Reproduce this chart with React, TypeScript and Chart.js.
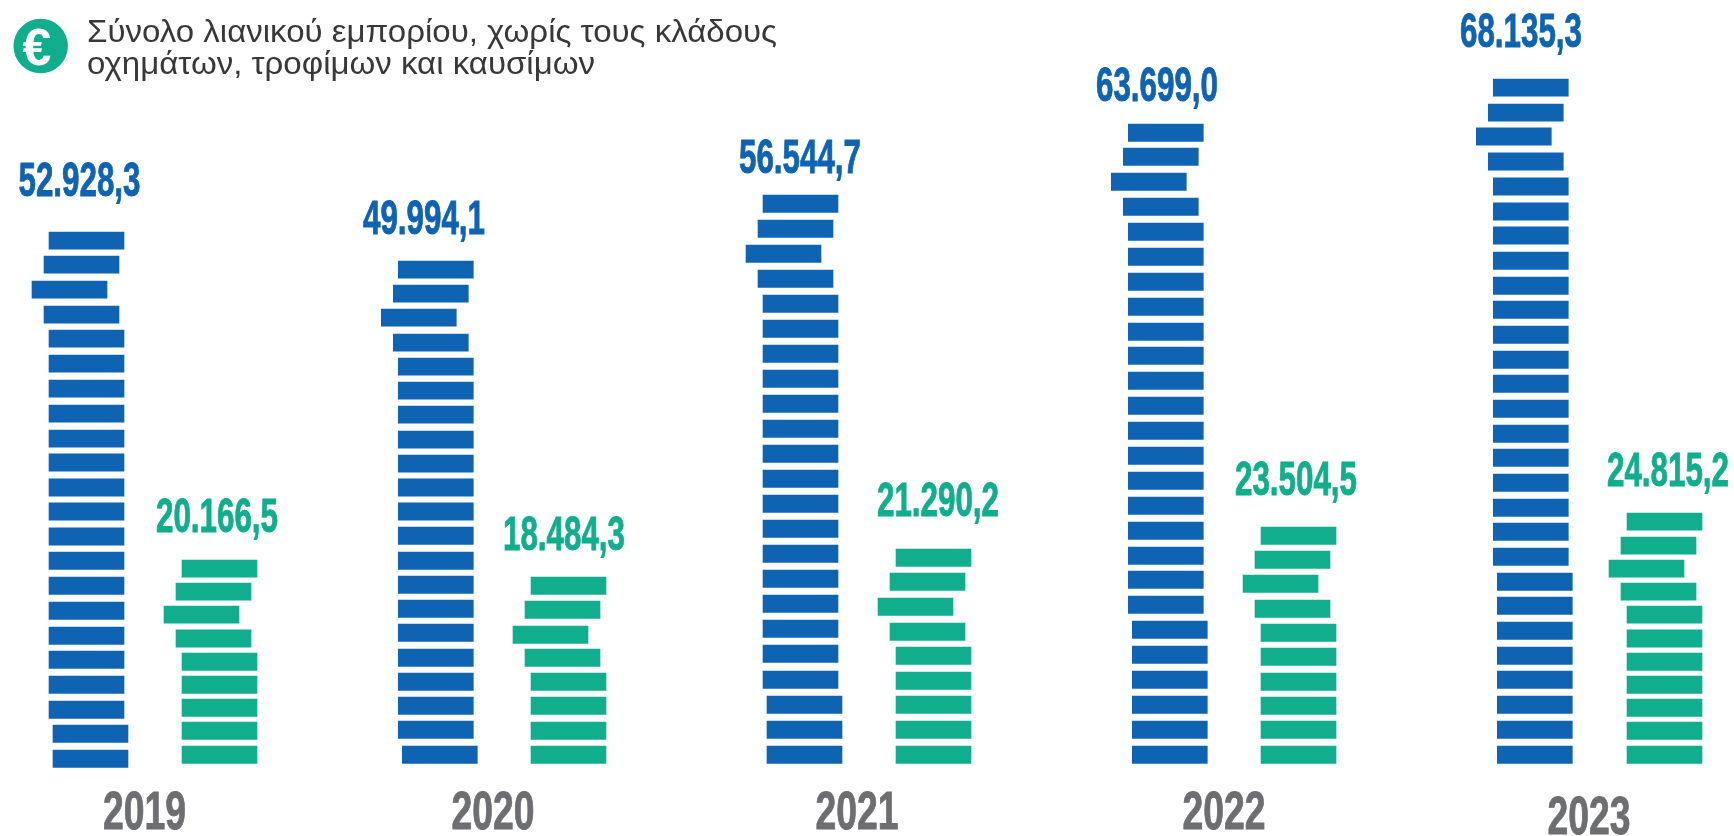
import React, { useEffect, useRef } from "react";
import { Chart, registerables } from "chart.js";

Chart.register(...registerables);

// ---- data: € million totals, and the level (thousand €) of each brick in every stack ----
const years = ["2019", "2020", "2021", "2022", "2023"];
const totalRetail = [52928.3, 49994.1, 56544.7, 63699.0, 68135.3];
const otherRetail = [20166.5, 18484.3, 21290.2, 23504.5, 24815.2];
const titleLines = [
  "Σύνολο λιανικού εμπορίου, χωρίς τους κλάδους",
  "οχημάτων, τροφίμων και καυσίμων",
];
const blue2019 = [52.03, 49.64, 47.15, 44.66, 42.27, 39.78, 37.29, 34.8, 32.31, 29.92, 27.43, 25.04, 22.55, 20.15, 17.66, 15.17, 12.68, 10.29, 7.8, 5.31, 2.92, 0.43];
const blue2020 = [49.14, 46.75, 44.36, 41.87, 39.48, 37.09, 34.7, 32.21, 29.82, 27.43, 25.04, 22.64, 20.15, 17.76, 15.37, 12.98, 10.49, 8.1, 5.71, 3.32, 0.83];
const blue2021 = [55.71, 53.22, 50.73, 48.24, 45.75, 43.26, 40.77, 38.28, 35.79, 33.3, 30.81, 28.32, 25.83, 23.34, 20.85, 18.36, 15.87, 13.38, 10.89, 8.3, 5.81, 3.32, 0.83];
const blue2022 = [62.78, 60.39, 57.9, 55.41, 52.92, 50.43, 47.94, 45.45, 42.96, 40.57, 38.08, 35.59, 33.1, 30.61, 28.12, 25.63, 23.14, 20.65, 18.26, 15.77, 13.28, 10.79, 8.3, 5.81, 3.32, 0.83];
const blue2023 = [67.27, 64.78, 62.39, 59.9, 57.41, 54.92, 52.53, 50.03, 47.54, 45.15, 42.66, 40.17, 37.78, 35.29, 32.8, 30.41, 27.92, 25.43, 23.04, 20.55, 18.06, 15.67, 13.18, 10.69, 8.3, 5.81, 3.32, 0.83];
const green2019 = [19.36, 17.07, 14.78, 12.39, 10.09, 7.8, 5.51, 3.22, 0.83];
const green2020 = [17.66, 15.27, 12.78, 10.49, 8.1, 5.71, 3.22, 0.83];
const green2021 = [20.45, 18.06, 15.57, 13.08, 10.69, 8.2, 5.81, 3.32, 0.83];
const green2022 = [22.64, 20.25, 17.86, 15.37, 12.98, 10.59, 8.1, 5.71, 3.32, 0.83];
const green2023 = [24.04, 21.65, 19.36, 17.07, 14.78, 12.39, 10.09, 7.8, 5.51, 3.22, 0.83];

// ---- layout (canvas px) ----
const BLUE = "#0f63b3";
const GREEN = "#10ae8c";
const GREY = "#6d6e71";
const INK = "#38383a";
const BRICK_W = 75;
const BRICK_H = 17.3;
const NARROW = '"Liberation Sans Narrow", "Liberation Sans", sans-serif';
const blueLeft = [49, 398.3, 763, 1128.3, 1493.3];
const greenLeft = [182, 531, 896, 1261, 1627];
const blueShift = [0, -5, -17, -5];
const greenShift = [0, -6, -18, -6];
const blueFootCount = [2, 1, 3, 6, 8];
const blueFootShift = 4;
const blueLabelX = [79.5, 424, 800, 1157, 1521];
const blueLabelY = [196, 234, 173, 101, 47];
const greenLabelX = [217, 564, 938, 1296, 1668];
const greenLabelY = [532, 550, 516, 495, 486];
const yearX = [144.5, 493, 857, 1224, 1589];
const yearY = [829, 829, 829, 829, 834];

const fmt = (v: number) =>
  v.toFixed(1).replace(".", ",").replace(/\B(?=(\d{3})+(?!\d))/, ".");

function squeezed(
  ctx: CanvasRenderingContext2D,
  text: string,
  cx: number,
  base: number,
  font: string,
  color: string,
  width: number
) {
  ctx.save();
  ctx.font = font;
  ctx.fillStyle = color;
  ctx.strokeStyle = color;
  ctx.lineWidth = 0.9;
  ctx.textBaseline = "alphabetic";
  ctx.textAlign = "center";
  const sx = width / ctx.measureText(text).width;
  ctx.translate(cx, base);
  ctx.scale(sx, 1);
  ctx.fillText(text, 0, 0);
  ctx.strokeText(text, 0, 0);
  ctx.restore();
}

const textPlugin = {
  id: "graphicText",
  afterDatasetsDraw(chart: Chart) {
    const ctx = chart.ctx;
    years.forEach((year, i) => {
      squeezed(ctx, fmt(totalRetail[i]), blueLabelX[i], blueLabelY[i], `bold 48px ${NARROW}`, BLUE, 122);
      squeezed(ctx, fmt(otherRetail[i]), greenLabelX[i], greenLabelY[i], `bold 48px ${NARROW}`, GREEN, 122);
      squeezed(ctx, year, yearX[i], yearY[i], `bold 54px ${NARROW}`, GREY, 83);
    });
    // Title
    ctx.save();
    ctx.fillStyle = INK;
    ctx.textAlign = "left";
    ctx.textBaseline = "alphabetic";
    ctx.font = '32px "Liberation Sans", sans-serif';
    const sx = 690 / ctx.measureText(titleLines[0]).width;
    titleLines.forEach((line, i) => {
      ctx.save();
      ctx.translate(87, i === 0 ? 42 : 74);
      ctx.scale(sx, 1);
      ctx.fillText(line, 0, 0);
      ctx.restore();
    });
    ctx.restore();
    // Euro badge
    ctx.save();
    ctx.fillStyle = GREEN;
    ctx.beginPath();
    ctx.arc(40.7, 46, 27.2, 0, Math.PI * 2);
    ctx.fill();
    ctx.fillStyle = "#ffffff";
    ctx.font = 'bold 52px "Liberation Sans", sans-serif';
    ctx.textAlign = "center";
    ctx.textBaseline = "alphabetic";
    ctx.fillText("€", 37, 65);
    ctx.restore();
  },
};

function stack(levels: number[], left: number, top: number[], footCount: number, footShift: number) {
  return levels.map((y, k) => {
    const shift = k < top.length ? top[k] : k >= levels.length - footCount ? footShift : 0;
    return { x: [left + shift, left + shift + BRICK_W], y };
  });
}

export default function App() {
  const ref = useRef<HTMLCanvasElement>(null);
  useEffect(() => {
    if (!ref.current) return;
    const blues = [blue2019, blue2020, blue2021, blue2022, blue2023];
    const greens = [green2019, green2020, green2021, green2022, green2023];
    const datasets: any[] = [];
    years.forEach((year, i) => {
      datasets.push({
        label: `Σύνολο ${year}`,
        data: stack(blues[i], blueLeft[i], blueShift, blueFootCount[i], blueFootShift),
        backgroundColor: BLUE,
      });
      datasets.push({
        label: `Χωρίς κλάδους ${year}`,
        data: stack(greens[i], greenLeft[i], greenShift, 0, 0),
        backgroundColor: GREEN,
      });
    });
    const chart = new Chart(ref.current, {
      type: "bar",
      data: { datasets },
      plugins: [textPlugin],
      options: {
        indexAxis: "y",
        responsive: false,
        animation: false,
        devicePixelRatio: 1,
        layout: { padding: 0 },
        datasets: { bar: { barThickness: BRICK_H, grouped: false, borderWidth: 0 } },
        plugins: { legend: { display: false }, title: { display: false }, tooltip: { enabled: false } },
        scales: {
          x: { type: "linear", min: 0, max: 1734, display: false },
          y: { type: "linear", min: -7.271, max: 75.996, display: false, offset: false },
        },
      } as any,
    });
    return () => chart.destroy();
  }, []);
  return (
    <canvas
      ref={ref}
      width={1734}
      height={836}
      style={{ position: "fixed", left: 0, top: 0, width: 1734, height: 836, display: "block", background: "#fff" }}
    />
  );
}
